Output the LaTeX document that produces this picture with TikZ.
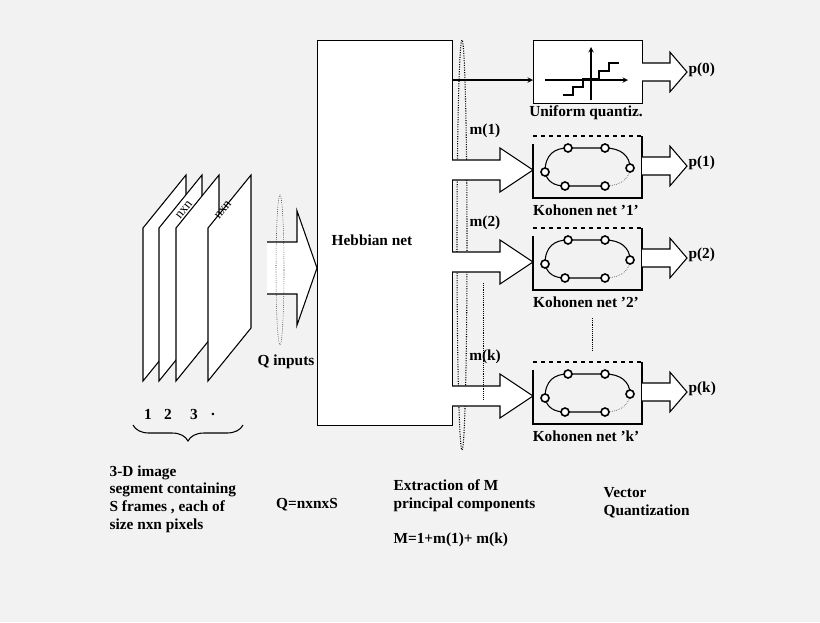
\documentclass[tikz,border=0pt]{standalone}
\usepackage{fontspec}
\setmainfont{Liberation Serif}
\usetikzlibrary{arrows, calc, positioning, decorations.pathreplacing}
\tikzstyle{txt} = [font=\bfseries\fontsize{11.5}{13.3}\selectfont, inner sep=1pt]
\tikzstyle{frame} = [draw=black, thick, fill=white]
\tikzstyle{fat} = [draw=black, thick, fill=white]
\tikzstyle{unit} = [draw=black, very thick, fill=white, circle, inner sep=0pt, minimum size=6pt]
\tikzstyle{arrow} = [thick,->,>=stealth]
\newcommand{\fatarrow}[5]{% x0, x1 (head start), x2 (tip), y centre, half stem
  \draw [fat] (#1,#4-#5) -- (#2,#4-#5) -- (#2,#4-2.2*#5) -- (#3,#4)
    -- (#2,#4+2.2*#5) -- (#2,#4+#5) -- (#1,#4+#5);}
\newcommand{\kohonen}[1]{% top left corner of box at (533,#1)
  \begin{scope}[shift={(533,#1)}]
    \draw [thick] (12,36) .. controls (12,18) and (22,12) .. (35,12) -- (72,12)
      .. controls (88,12) and (97,20) .. (97,32);
    \draw [thick] (12,36) .. controls (14,46) and (22,50) .. (32,50) -- (72,50);
    \draw [densely dotted] (72,50) .. controls (88,50) and (97,42) .. (97,32);
    \foreach \p in {(35,12),(72,12),(12,36),(97,32),(32,50),(72,50)}
      \node [unit] at \p {};
  \end{scope}}
\begin{document}
\begin{tikzpicture}[x=0.75pt, y=-0.75pt]
  \fill [black!5] (0,0) rectangle (820,622);
  \useasboundingbox (0,0) rectangle (820,622);

  % stack of frames
  \foreach \fx in {143,159,176,208}
    \draw [frame] (\fx,228) -- (\fx+43,175) -- (\fx+43,328) -- (\fx,381) -- cycle;
  \node [font=\normalsize, rotate=52, inner sep=0pt] (nxn1) at (184,210) {nxn};
  \node [font=\normalsize, rotate=52, inner sep=0pt] (nxn2) at (223,210) {nxn};
  \node [txt] (f1) at (148,414) {1};
  \node [txt] (f2) at (168,414) {2};
  \node [txt] (f3) at (194,414) {3};
  \node [txt] (f4) at (213,414) {.};
  \draw [thick, decorate, decoration={brace, mirror, amplitude=12pt}]
    (133,425) -- (243,425);
  \node [txt, align=left, anchor=north west] (seg) at (108,464)
    {3-D image\\segment containing\\S frames , each of\\size nxn pixels};

  % inputs
  \fatarrow{267}{297}{317}{268}{26}
  \draw [densely dotted] (280,270) ellipse (4 and 75);
  \node [txt] (qin) at (286,362) {Q inputs};
  \node [txt] (qeq) at (307,505) {Q=nxnxS};

  % Hebbian net
  \node [draw=black, thick, fill=white, minimum width=101pt, minimum height=289pt,
    anchor=north west, inner sep=0pt] (heb) at (317,40) {};
  \node [txt] (hebl) at (372,240) {Hebbian net};
  \draw [densely dotted, thick] (462,245) ellipse (5 and 205);

  % uniform quantizer
  \node [draw=black, thick, fill=white, minimum width=82pt, minimum height=47pt,
    anchor=north west, inner sep=0pt] (uq) at (533,40) {};
  \draw [arrow] (heb.east |- 0,80) -- (uq.west |- 0,80);
  \draw [arrow] (545,80) -- (628,80);
  \draw [arrow] (591,100) -- (591,47);
  \draw [thick] (563,95) -- (573,95) -- (573,87) -- (583,87) -- (583,79) -- (599,79)
    -- (599,71) -- (609,71) -- (609,63) -- (619,63);
  \node [txt] (uql) at (586,113) {Uniform quantiz.};
  \fatarrow{642}{670}{687}{72}{9}
  \node [txt, anchor=west] (p0) at (687,70) {p(0)};

  % Kohonen nets
  \foreach \t/\lab/\m/\p in {136/1/m(1)/p(1), 228/2/m(2)/p(2), 362/k/m(k)/p(k)} {
    \draw [thick] (533,\t+8) -- (533,\t+62) -- (642,\t+62) -- (642,\t);
    \draw [thick, dashed] (533,\t) -- (642,\t);
    \kohonen{\t}
    \fatarrow{452}{500}{533}{\t+34}{10}
    \node [txt] at (586,\t+74) {Kohonen net '\lab'};
    \node [txt] at (485,\t-5) {\m};
    \fatarrow{642}{670}{687}{\t+30}{9}
    \node [txt, anchor=west] at (687,\t+27) {\p};
  }
  \draw [thick, dashed] (533,290) -- (642,290);
  \draw [densely dotted] (483,283) -- (483,400);
  \draw [densely dotted] (592,318) -- (592,350);

  % bottom texts
  \node [txt, align=left, anchor=north west] (ext) at (392,478)
    {Extraction of M\\principal components};
  \node [txt, anchor=west] (meq) at (392,540) {M=1+m(1)+ m(k)};
  \node [txt, align=left, anchor=north west] (vq) at (602,486)
    {Vector\\Quantization};
\end{tikzpicture}
\end{document}
